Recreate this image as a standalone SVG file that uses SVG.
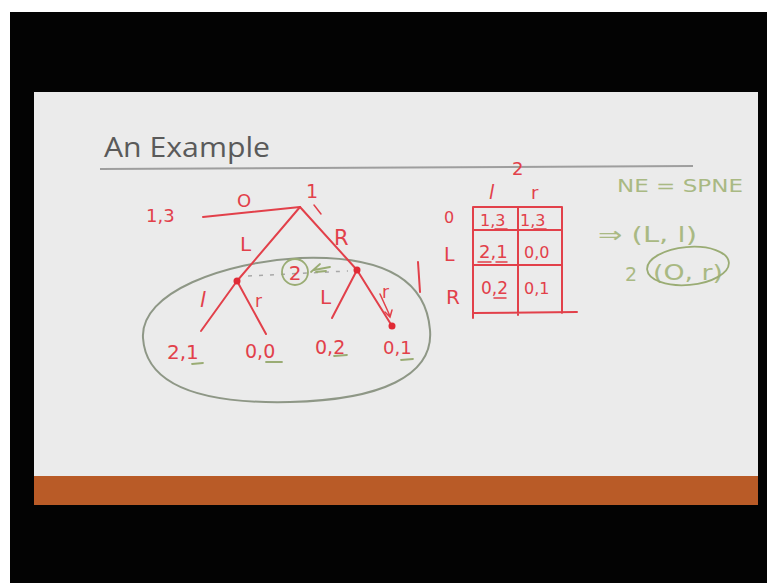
<svg xmlns="http://www.w3.org/2000/svg" width="767" height="583" viewBox="0 0 767 583">
<defs>
<style>
.ink{stroke:#e2404a;stroke-width:2;fill:none;stroke-linecap:round;stroke-linejoin:round}
.thin{stroke:#e2404a;stroke-width:1.5;fill:none;stroke-linecap:round}
.grn{stroke:#9aac74;stroke-width:1.8;fill:none;stroke-linecap:round}
.rt{font-family:"DejaVu Sans",sans-serif;fill:#e2404a}
.gt{font-family:"DejaVu Sans",sans-serif;fill:#a9b983}
.dot{fill:#e02a35}
</style>
</defs>
<rect x="0" y="0" width="767" height="583" fill="#ffffff"/>
<rect x="10" y="12" width="757" height="571" fill="#030303"/>
<rect x="34" y="92" width="724" height="384" fill="#ebebeb"/>
<rect x="34" y="476" width="724" height="29" fill="#b95b27"/>
<g id="title">
<text x="104" y="157" font-family="Open Sans, sans-serif" font-size="28" fill="#5a5a5a" textLength="166" lengthAdjust="spacingAndGlyphs">An Example</text>
<line x1="100" y1="169" x2="693" y2="166" stroke="#9e9e9e" stroke-width="2"/>
</g>
<g id="set">
<path d="M143,338 C140,292 225,262 300,258 C385,255 426,280 430,330 C434,376 380,400 290,402 C200,404 146,385 143,338 Z" stroke="#8e9786" stroke-width="2" fill="none"/>
<line x1="248" y1="276" x2="348" y2="271" stroke="#a8a8a8" stroke-width="1.5" stroke-dasharray="4 7"/>
<circle cx="295" cy="272" r="13" class="grn" stroke="#8f9e76"/>
<text x="295" y="280" class="rt" text-anchor="middle" font-size="20">2</text>
<path class="grn" d="M311,272 L320,264 M314,270 L330,267 M316,272 L326,271"/>
</g>
<g id="connectors">
<path class="ink" d="M203,217 L300,207"/>
<path class="ink" d="M300,207 L237,281"/>
<path class="ink" d="M300,207 L357,270"/>
<path class="ink" d="M237,281 L201,331"/>
<path class="ink" d="M237,281 L266,334"/>
<path class="ink" d="M357,270 L332,318"/>
<path class="ink" d="M357,270 L392,326"/>
<path class="thin" d="M314,205 L321,214"/>
<path class="thin" d="M380,294 L390,316 M385,312 L390,317 L392,310"/>
<line class="ink" x1="418" y1="262" x2="420" y2="292"/>
</g>
<g id="root">
<text x="306" y="198" class="rt" font-size="19">1</text>
<text x="237" y="207" class="rt" font-size="18">O</text>
<text x="146" y="222" class="rt" font-size="18">1,3</text>
<text x="240" y="251" class="rt" font-size="20">L</text>
<text x="334" y="245" class="rt" font-size="21">R</text>
</g>
<g id="node-left">
<circle class="dot" cx="237" cy="281" r="3.5"/>
<text x="200" y="307" class="rt" font-size="21" font-style="italic">l</text>
<text x="255" y="307" class="rt" font-size="17">r</text>
</g>
<g id="node-right">
<circle class="dot" cx="357" cy="270" r="3.5"/>
<text x="320" y="304" class="rt" font-size="20">L</text>
<text x="382" y="298" class="rt" font-size="17">r</text>
</g>
<g id="leaves">
<circle class="dot" cx="392" cy="326" r="3.5"/>
<text x="167" y="359" class="rt" font-size="20">2,1</text>
<text x="245" y="358" class="rt" font-size="19">0,0</text>
<text x="315" y="354" class="rt" font-size="19">0,2</text>
<text x="383" y="354" class="rt" font-size="18">0,1</text>
<path class="grn" d="M192,364 L203,363 M266,362 L282,362 M334,356 L347,355 M401,360 L413,359"/>
</g>
<g id="table">
<text x="512" y="175" class="rt" font-size="18">2</text>
<text x="489" y="199" class="rt" font-size="19" font-style="italic">l</text>
<text x="531" y="199" class="rt" font-size="18">r</text>
<text x="444" y="223" class="rt" font-size="16">0</text>
<text x="444" y="261" class="rt" font-size="19">L</text>
<text x="446" y="304" class="rt" font-size="20">R</text>
<path class="ink" d="M473,207 L562,207 M473,230 L562,230 M473,265 L562,265 M473,313 L577,312 M473,207 L473,318 M518,207 L518,315 M562,207 L562,313"/>
<text x="480" y="226" class="rt" font-size="16">1,3</text>
<text x="520" y="226" class="rt" font-size="16">1,3</text>
<text x="479" y="258" class="rt" font-size="18">2,1</text>
<text x="524" y="258" class="rt" font-size="16">0,0</text>
<text x="481" y="294" class="rt" font-size="17">0,2</text>
<text x="524" y="294" class="rt" font-size="16">0,1</text>
<path class="thin" d="M495,229 L507,229 M534,229 L546,229 M478,262 L491,262 M496,262 L507,262 M494,298 L506,298"/>
</g>
<g id="notes">
<text x="617" y="192" class="gt" font-size="18" textLength="126" lengthAdjust="spacingAndGlyphs">NE = SPNE</text>
<text x="598" y="242" class="gt" font-size="21" textLength="99" lengthAdjust="spacingAndGlyphs">⇒ (L, l)</text>
<text x="625" y="281" class="gt" font-size="19">2</text>
<text x="653" y="280" class="gt" font-size="22" textLength="70" lengthAdjust="spacingAndGlyphs">(O, r)</text>
<ellipse cx="688" cy="266" rx="41" ry="19" transform="rotate(-5 688 266)" class="grn"/>
</g>
</svg>
